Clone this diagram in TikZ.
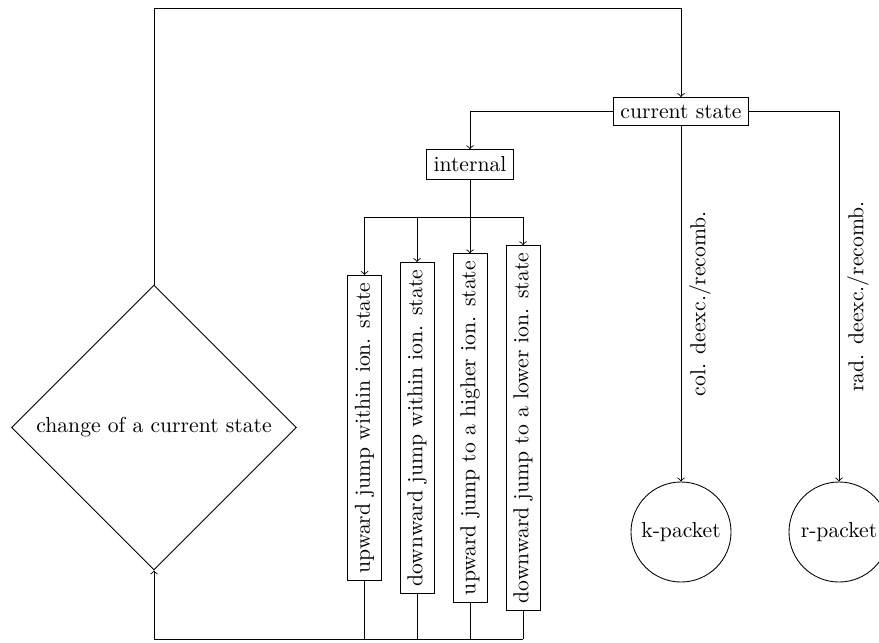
\documentclass[tikz,border=0pt]{standalone}
\usetikzlibrary{shapes.geometric,calc}
\begin{document}
\begin{tikzpicture}[x=0.4619pt, y=-0.4619pt, >=to,
  box/.style={draw, inner sep=3.33pt},
  dia/.style={draw, diamond, aspect=1, inner sep=0pt, minimum width=131.6pt, minimum height=131.6pt},
  circ/.style={draw, circle, inner sep=0pt, minimum size=46.2pt},
  lbl/.style={xshift=8.8pt}]
\useasboundingbox (0,0) rectangle (879,642);
% nodes
\node[box] (cur) at (681,111.5) {current state};
\node[box] (int) at (470,164.5) {internal};
\node[box] (b1) at (364.5,428) {\rotatebox{90}{upward jump within ion. state}};
\node[box] (b2) at (417,428) {\rotatebox{90}{downward jump within ion. state}};
\node[box] (b3) at (470,428) {\rotatebox{90}{upward jump to a higher ion. state}};
\node[box] (b4) at (523,428) {\rotatebox{90}{downward jump to a lower ion. state}};
\node[dia] (dia) at (154,427.5) {change of a current state};
\node[circ] (kp) at (681,532) {k-packet};
\node[circ] (rp) at (839,532) {r-packet};
% helper coordinates
\coordinate (top) at (0,8);
\coordinate (sp) at (0,217);
\coordinate (bot) at (0,639);
% connectors
\draw[->] (dia.north) -- (dia.north |- top) -| (cur.north);
\draw[->] (cur.west) -| (int.north);
\draw (int.south) -- (int.south |- sp);
\draw (b1.north |- sp) -- (b4.north |- sp);
\foreach \b in {b1,b2,b3,b4} \draw[->] (\b.north |- sp) -- (\b.north);
\foreach \b in {b1,b2,b3,b4} \draw (\b.south) -- (\b.south |- bot);
\draw[->] (b4.south |- bot) -| (dia.south);
\draw[->] (cur.south) -- node[lbl] {\rotatebox{90}{col. deexc./recomb.}} (kp.north);
\draw[->] (cur.east) -| node[pos=0.75, lbl] {\rotatebox{90}{rad. deexc./recomb.}} (rp.north);
\end{tikzpicture}
\end{document}
